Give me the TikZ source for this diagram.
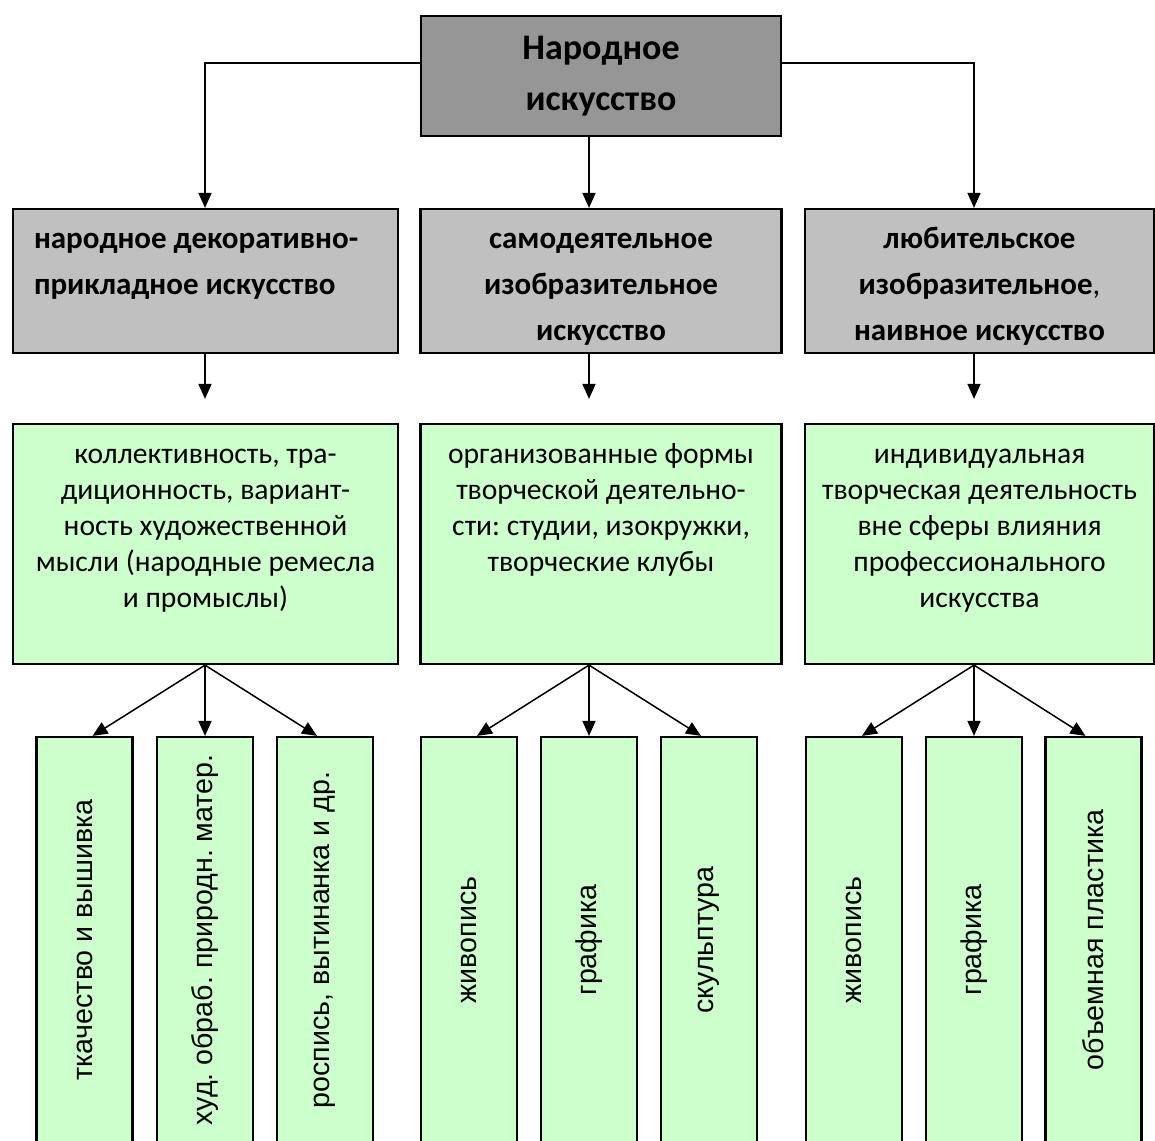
\documentclass[tikz,border=0pt]{standalone}
\usepackage{fontspec}
\setmainfont{Carlito}
\newfontfamily\kindfont{Liberation Sans}
\usepackage{xcolor}
\definecolor{rootgray}{HTML}{969696}
\definecolor{typegray}{HTML}{C0C0C0}
\definecolor{formgreen}{HTML}{CCFFCC}
\usetikzlibrary{arrows.meta}
\frenchspacing
% height, width, alignment, first baseline, text
\newcommand{\intext}[5]{\parbox[c][#1][t]{#2}{#3\rule{0pt}{#4}#5}}

\begin{document}
\begin{tikzpicture}[x=0.5pt, y=-0.5pt,
  rootbox/.style={draw, line width=1.1pt, fill=rootgray, minimum width=180pt,
                  minimum height=60pt, align=center,
                  font=\fontsize{18}{25.5}\selectfont\bfseries},
  typebox/.style={draw, line width=1.1pt, fill=typegray, inner sep=0pt,
                  font=\fontsize{15.5}{23}\selectfont\bfseries},
  formbox/.style={draw, line width=1.1pt, fill=formgreen, inner sep=0pt,
                  font=\fontsize{14.8}{18}\selectfont},
  kindbox/.style={draw, line width=1.1pt, fill=formgreen, inner sep=0pt,
                  minimum width=48pt, minimum height=203pt,
                  font=\kindfont\fontsize{14.3}{17}\selectfont},
  arr/.style={-{Triangle[length=7.5pt,width=6.5pt]}, line width=0.75pt}
]
  \useasboundingbox (0,0) rectangle (1155,1140);

  \node[rootbox] (root) at (601,76) {Народное\\искусство};

  \node[typebox] (decor) at (205.5,281)
    {\intext{72pt}{192.5pt}{\raggedright\leftskip=10.5pt}{19.5pt}{народное декоративно-\\прикладное искусство}};
  \node[typebox] (selfact) at (601,281)
    {\intext{72pt}{180.5pt}{\centering}{19.5pt}{самодеятельное\\изобразительное\\искусство}};
  \node[typebox] (hobby) at (979.5,281)
    {\intext{72pt}{174.5pt}{\centering}{19.5pt}{любительское\\изобразительное\textmd{,}\\наивное искусство}};

  \node[formbox] (decorfeat) at (205.5,544)
    {\intext{120pt}{192.5pt}{\centering}{19.5pt}{коллективность, тра-\\диционность, вариант-\\ность художественной\\мысли (народные ремесла\\и промыслы)}};
  \node[formbox] (selffeat) at (601,544)
    {\intext{120pt}{180.5pt}{\centering}{19.5pt}{организованные формы\\творческой деятельно-\\сти: студии, изокружки,\\творческие клубы}};
  \node[formbox] (hobbyfeat) at (979.5,544)
    {\intext{120pt}{174.5pt}{\centering}{19.5pt}{индивидуальная\\творческая деятельность\\вне сферы влияния\\профессионального\\искусства}};

  \node[kindbox] (weave)   at (84.5,940)  {\rotatebox{90}{ткачество и вышивка}};
  \node[kindbox] (craft)   at (205,940)   {\rotatebox{90}{худ. обраб. природн. матер.}};
  \node[kindbox] (mural)   at (325,940)   {\rotatebox{90}{роспись, вытинанка и др.}};
  \node[kindbox] (paintS)  at (469,940)   {\rotatebox{90}{живопись}};
  \node[kindbox] (graphS)  at (589,940)   {\rotatebox{90}{графика}};
  \node[kindbox] (sculpt)  at (709,940)   {\rotatebox{90}{скульптура}};
  \node[kindbox] (paintH)  at (854,940)   {\rotatebox{90}{живопись}};
  \node[kindbox] (graphH)  at (974,940)   {\rotatebox{90}{графика}};
  \node[kindbox] (plastic) at (1093.5,940) {\rotatebox{90}{объемная пластика}};

  \draw[arr] ([yshift=6.5pt]root.west) -| (decor.north -| craft.north);
  \draw[arr] (root.south -| graphS.north) -- (selfact.north -| graphS.north);
  \draw[arr] ([yshift=6.5pt]root.east) -| (hobby.north -| graphH.north);

  \draw[arr, shorten >=12pt] (decor.south -| craft.north) -- (decorfeat.north -| craft.north);
  \draw[arr, shorten >=12pt] (selfact.south -| graphS.north) -- (selffeat.north -| graphS.north);
  \draw[arr, shorten >=12pt] (hobby.south -| graphH.north) -- (hobbyfeat.north -| graphH.north);

  \draw[arr] (decorfeat.south -| craft.north) -- ([xshift=4pt]weave.north);
  \draw[arr] (decorfeat.south -| craft.north) -- (craft.north);
  \draw[arr] (decorfeat.south -| craft.north) -- ([xshift=-4pt]mural.north);
  \draw[arr] (selffeat.south -| graphS.north) -- ([xshift=4pt]paintS.north);
  \draw[arr] (selffeat.south -| graphS.north) -- (graphS.north);
  \draw[arr] (selffeat.south -| graphS.north) -- ([xshift=-4pt]sculpt.north);
  \draw[arr] (hobbyfeat.south -| graphH.north) -- ([xshift=4pt]paintH.north);
  \draw[arr] (hobbyfeat.south -| graphH.north) -- (graphH.north);
  \draw[arr] (hobbyfeat.south -| graphH.north) -- ([xshift=-4pt]plastic.north);
\end{tikzpicture}
\end{document}
